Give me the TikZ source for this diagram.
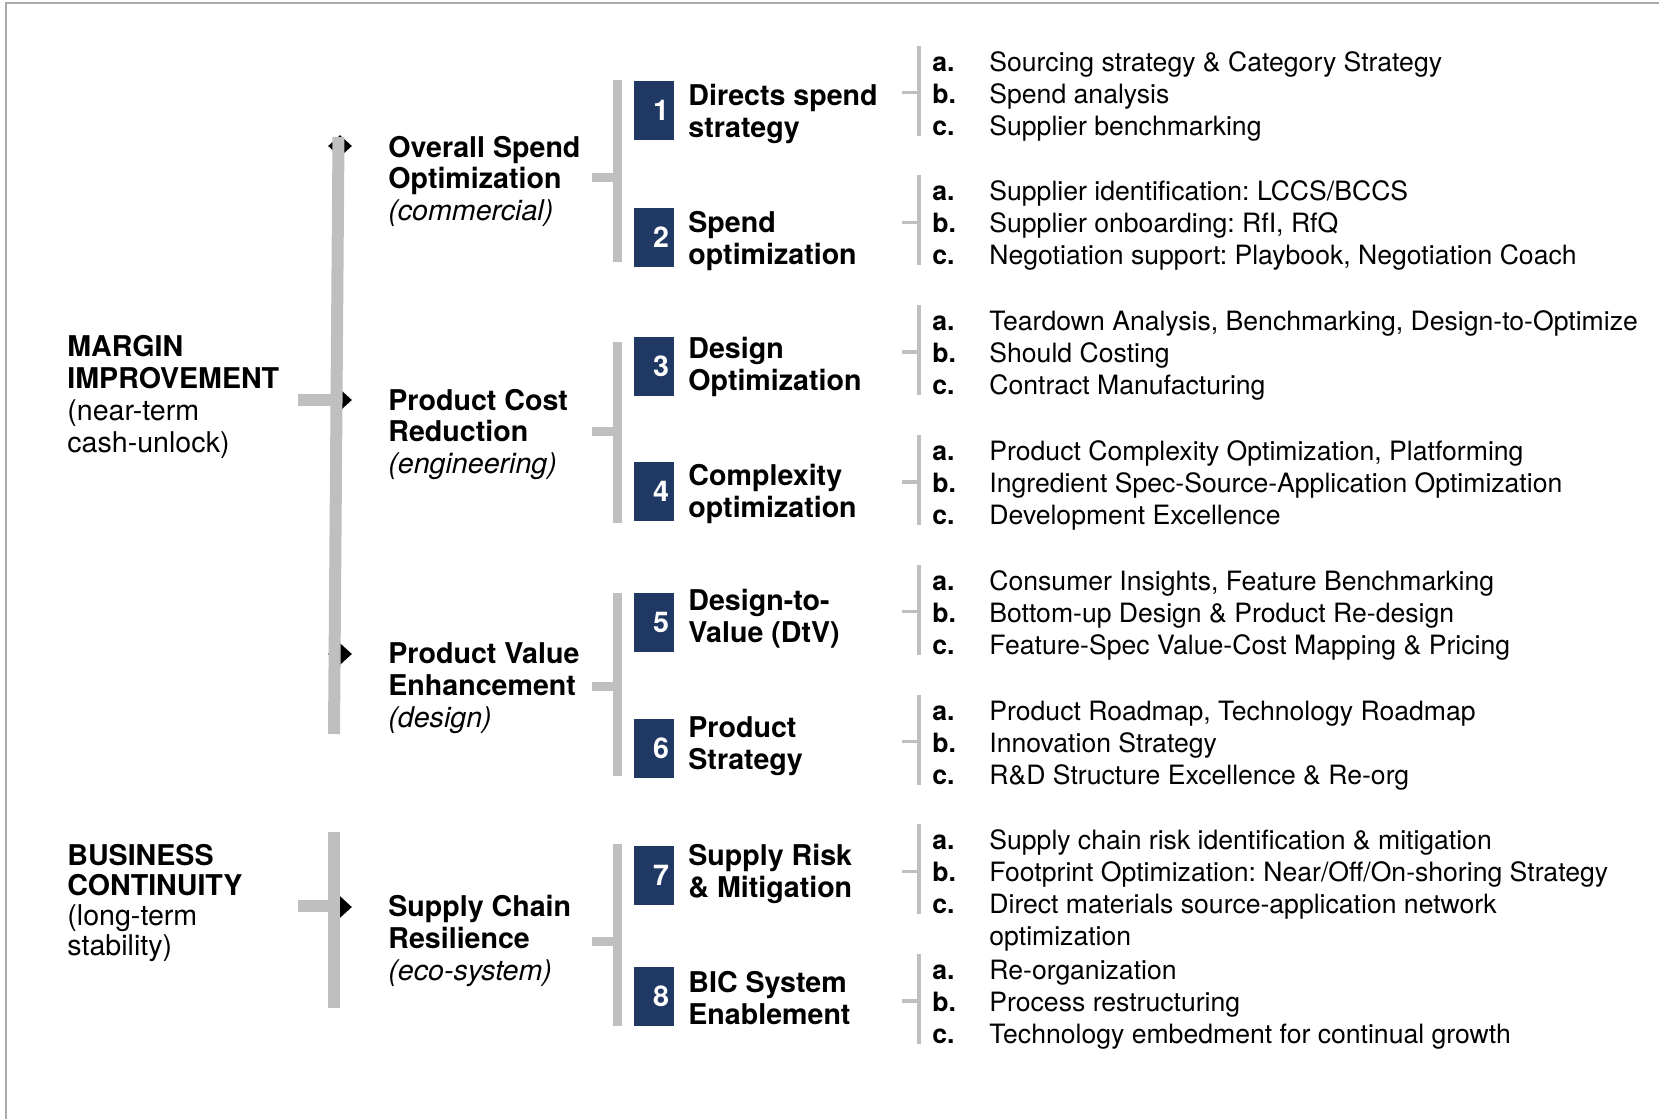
\documentclass[tikz,border=0pt]{standalone}
\usepackage{fontspec}
\setmainfont{TeX Gyre Heros}
\frenchspacing
\usetikzlibrary{positioning,shapes.geometric}
\definecolor{navy}{RGB}{32,56,100}
\definecolor{bargray}{RGB}{191,191,191}
\definecolor{framegray}{RGB}{170,170,170}
\tikzset{
  aim/.style={anchor=base west,align=left,inner sep=0,font=\fontsize{14.3}{15.85}\selectfont\bfseries},
  goal/.style={anchor=base west,align=left,inner sep=0,font=\fontsize{14.3}{15.9}\selectfont\bfseries},
  lever/.style={anchor=base west,align=left,inner sep=0,font=\fontsize{14.3}{15.9}\selectfont\bfseries},
  numbox/.style={fill=navy,text=white,minimum width=20pt,minimum height=29.5pt,inner sep=0,font=\fontsize{14.3}{15}\selectfont\bfseries},
  letter/.style={anchor=base west,inner sep=0,font=\fontsize{13.3}{16}\selectfont\bfseries},
  itemtxt/.style={anchor=base west,align=left,inner sep=0,font=\fontsize{13.3}{16}\selectfont},
  tip/.style={diamond,fill=black,inner sep=0,minimum width=12pt,minimum height=11pt},
  bigbar/.style={draw=bargray,line width=6pt},
  midbar/.style={draw=bargray,line width=4.5pt},
  thinbar/.style={draw=bargray,line width=1.7pt},
}
\newcommand{\sub}[1]{\textnormal{\itshape #1}}

\begin{document}
\begin{tikzpicture}[x=0.5pt,y=-0.5pt]
\useasboundingbox (0,0) rectangle (1659,1119);
\draw[framegray,line width=1pt] (6,1119) -- (6,3) -- (1659,3);

% top level (nodes sit on their last baseline)
\node[aim] (margin) at (67,452) {MARGIN\\IMPROVEMENT\\\textnormal{(near-term}\\\textnormal{cash-unlock)}};
\node[aim, font=\fontsize{14.3}{15}\selectfont\bfseries] (business) at (67,955) {BUSINESS\\CONTINUITY\\\textnormal{(long-term}\\\textnormal{stability)}};

% diamonds sit under the bars
\node[tip] (d1) at (340,146) {};
\node[tip] (d2) at (340,400) {};
\node[tip] (d3) at (340,654) {};
\node[tip] (d4) at (340,907) {};

\coordinate (mtop) at (338.5,137);
\coordinate (mbot) at (334,734);
\coordinate (btop) at (334,832);
\coordinate (bbot) at (334,1008);
\draw[bigbar] (mtop) -- (mbot);
\draw[bigbar] (298,399.5) -- (336,399.5);
\draw[bigbar] (btop) -- (bbot);
\draw[bigbar] (298,906) -- (btop |- 0,906);

% second level
\node[goal] (spend) at (388,220.6) {Overall Spend\\Optimization\\\sub{(commercial)}};
\node[goal] (cost) at (388,473.6) {Product Cost\\Reduction\\\sub{(engineering)}};
\node[goal] (value) at (388,727) {Product Value\\Enhancement\\\sub{(design)}};
\node[goal] (chain) at (388,980.5) {Supply Chain\\Resilience\\\sub{(eco-system)}};

% brackets to the levers
\foreach \top/\bot/\mid in {80/262/177.5, 342/523/431.5, 593/776/686.5, 844/1026/941}{
  \draw[midbar] (617.5,\top) -- (617.5,\bot);
  \draw[midbar] (592,\mid) -- (617.5,\mid);
}

% levers
\foreach \n/\yc/\yt/\txt in {1/110/137/{Directs spend\\strategy}, 2/237/264/{Spend\\optimization},
  3/366/390/{Design\\Optimization}, 4/491/517/{Complexity\\optimization},
  5/622/642/{Design-to-\\Value (DtV)}, 6/748/769/{Product\\Strategy},
  7/875/897/{Supply Risk\\\& Mitigation}, 8/996/1024/{BIC System\\Enablement}}{
  \node[numbox] (n\n) at (654,\yc) {\hspace*{7pt}\n};
  \node[lever] (h\n) at (688,\yt) {\txt};
}

% items
\foreach \ia/\ib/\ic [count=\k from 0] in {
  {Sourcing strategy \& Category Strategy}/{Spend analysis}/{Supplier benchmarking},
  {Supplier identification: LCCS/BCCS}/{Supplier onboarding: RfI, RfQ}/{Negotiation support: Playbook, Negotiation Coach},
  {Teardown Analysis, Benchmarking, Design-to-Optimize}/{Should Costing}/{Contract Manufacturing},
  {Product Complexity Optimization, Platforming}/{Ingredient Spec-Source-Application Optimization}/{Development Excellence},
  {Consumer Insights, Feature Benchmarking}/{Bottom-up Design \& Product Re-design}/{Feature-Spec Value-Cost Mapping \& Pricing},
  {Product Roadmap, Technology Roadmap}/{Innovation Strategy}/{R\&D Structure Excellence \& Re-org},
  {Supply chain risk identification \& mitigation}/{Footprint Optimization: Near/Off/On-shoring Strategy}/{Direct materials source-application network},
  {Re-organization}/{Process restructuring}/{Technology embedment for continual growth}}{
  \pgfmathsetmacro\yb{71+129.8*\k}
  \node[letter] (la\k) at (932,\yb) {a.};
  \node[itemtxt] (ta\k) at (989,\yb) {\ia};
  \node[letter] (lb\k) at (932,{\yb+32}) {b.};
  \node[itemtxt] (tb\k) at (989,{\yb+32}) {\ib};
  \node[letter] (lc\k) at (932,{\yb+64}) {c.};
  \node[itemtxt] (tc\k) at (989,{\yb+64}) {\ic};
  \draw[thinbar] (919,{\yb-25.5}) -- (919,{\yb+64.5}) (902,{\yb+21.5}) -- (919,{\yb+21.5});
}
% the one item that wraps
\node[itemtxt] (tc6b) at (tc6.base west) [yshift=-16pt] {optimization};
\end{tikzpicture}
\end{document}
